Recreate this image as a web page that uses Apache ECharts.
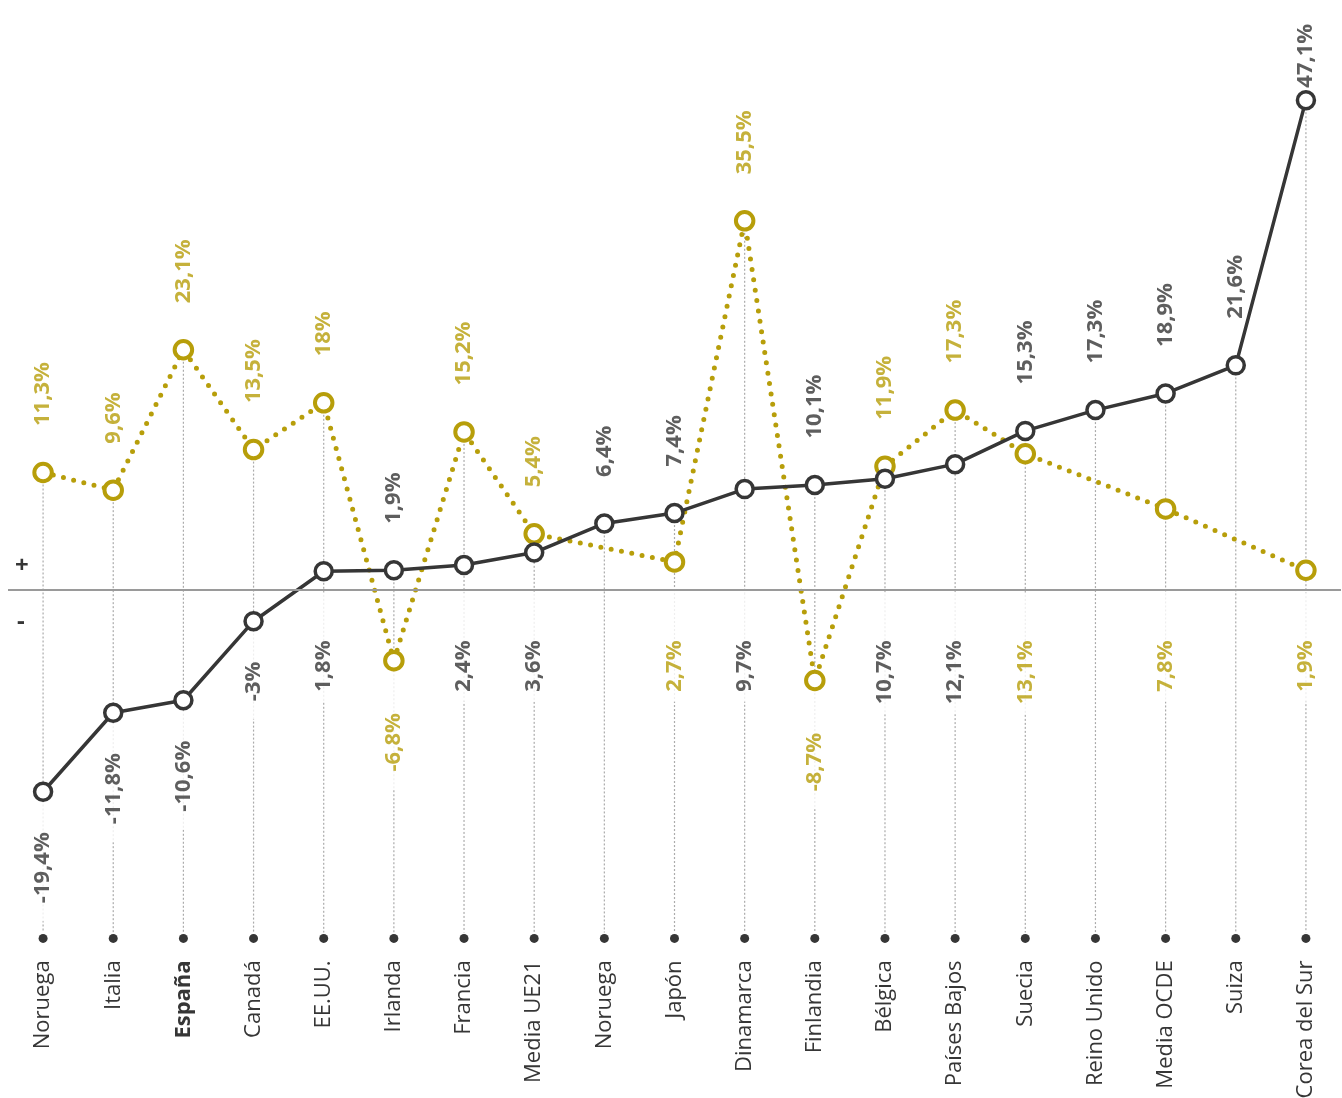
<!DOCTYPE html>
<html><head><meta charset="utf-8">
<script src="https://cdn.jsdelivr.net/npm/echarts@6/dist/echarts.min.js"></script>
<style>html,body{margin:0;padding:0;background:#fff}#c{width:1342px;height:1098px}</style>
</head><body><div id="c"></div>
<script>
// ---- data ----
const categories = ['Noruega','Italia','España','Canadá','EE.UU.','Irlanda','Francia','Media UE21','Noruega','Japón','Dinamarca','Finlandia','Bélgica','Países Bajos','Suecia','Reino Unido','Media OCDE','Suiza','Corea del Sur'];
const darkValues  = [-19.4,-11.8,-10.6,-3,1.8,1.9,2.4,3.6,6.4,7.4,9.7,10.1,10.7,12.1,15.3,17.3,18.9,21.6,47.1];
const oliveValues = [11.3,9.6,23.1,13.5,18,-6.8,15.2,5.4,null,2.7,35.5,-8.7,11.9,17.3,13.1,null,7.8,null,1.9];
const boldCategories = ['España'];

// ---- styles ----
const DARK = '#363636', OLIVE = '#b79e0a', FONT = '"Open Sans", "DejaVu Sans", sans-serif';
const yMin = -33.5, yMax = 50;
const tightTopLabels = {'Corea del Sur': 12};

const fmt = v => String(v).replace('.', ',') + '%';

function labelItems(values, others, color, negGap) {
  const out = [];
  values.forEach((v, i) => {
    if (v == null) return;
    const o = others[i];
    const above = (o == null) || v > o;
    const base = {fontFamily: FONT, fontWeight: 'bold', fontSize: 22, color: color, rotate: 90,
                  show: true, formatter: () => fmt(v)};
    if (above) {
      const gap = tightTopLabels[categories[i]] != null ? tightTopLabels[categories[i]] : 46;
      out.push({value: [i, v], label: Object.assign(base, {position: 'top', distance: gap, align: 'left', verticalAlign: 'middle'})});
    } else if (v < 0) {
      out.push({value: [i, v], label: Object.assign(base, {position: 'bottom', distance: 10, align: 'right', verticalAlign: 'middle',
        backgroundColor: '#fff', padding: [2, negGap, 2, 18]})});
    } else {
      out.push({value: [i, 0], label: Object.assign(base, {position: 'bottom', distance: 2, align: 'right', verticalAlign: 'middle',
        backgroundColor: '#fff', padding: [2, 48, 2, 10]})});
    }
  });
  return out;
}

const dropData = categories.map((c, i) => {
  const a = darkValues[i], b = oliveValues[i];
  return [i, b == null ? a : Math.max(a, b)];
});

const chart = echarts.init(document.getElementById('c'), null, {renderer: 'canvas'});
chart.setOption({
  animation: false,
  backgroundColor: '#fff',
  grid: {left: 8, right: 1, top: 70, bottom: 159.6, containLabel: false, outerBoundsMode: 'none'},
  xAxis: {
    type: 'category', data: categories, boundaryGap: true,
    axisLine: {show: false}, axisTick: {show: false}, splitLine: {show: false},
    axisLabel: {
      interval: 0, rotate: 90, margin: 22, color: DARK, fontFamily: FONT, fontSize: 22,
      formatter: v => boldCategories.includes(v) ? '{b|' + v + '}' : v,
      rich: {b: {fontWeight: 700, fontFamily: FONT, fontSize: 22, color: DARK}}
    }
  },
  yAxis: {type: 'value', min: yMin, max: yMax, show: false},
  series: [
    {
      type: 'custom', z: 1, silent: true, data: dropData,
      renderItem: (params, api) => {
        const i = api.value(0);
        const top = api.coord([i, api.value(1)]);
        const bot = api.coord([i, yMin]);
        return {type: 'group', children: [
          {type: 'line', shape: {x1: top[0], y1: top[1], x2: bot[0], y2: bot[1] - 6},
           style: {stroke: '#ababab', lineWidth: 1.2, lineDash: [2, 2]}},
          {type: 'circle', shape: {cx: bot[0], cy: bot[1], r: 4.5}, style: {fill: DARK}}
        ]};
      }
    },
    {
      type: 'scatter', z: 2, silent: true, symbolSize: 1, itemStyle: {color: 'rgba(0,0,0,0)'},
      data: labelItems(darkValues, oliveValues, DARK, 30)
    },
    {
      type: 'scatter', z: 2, silent: true, symbolSize: 1, itemStyle: {color: 'rgba(0,0,0,0)'},
      data: labelItems(oliveValues, darkValues, OLIVE, 42)
    },
    {
      name: 'olive', type: 'line', z: 3, data: oliveValues, connectNulls: true,
      symbol: 'circle', symbolSize: 17.5,
      lineStyle: {color: OLIVE, width: 5, type: [0, 10.5], cap: 'round'},
      itemStyle: {color: '#fff', borderColor: OLIVE, borderWidth: 4}
    },
    {
      name: 'dark', type: 'line', z: 4, data: darkValues,
      symbol: 'circle', symbolSize: 17,
      lineStyle: {color: DARK, width: 3.5},
      itemStyle: {color: '#fff', borderColor: DARK, borderWidth: 3.5},
      markLine: {
        silent: true, symbol: 'none', animation: false,
        lineStyle: {color: '#9a9a9a', width: 2, type: 'solid'},
        data: [
          {yAxis: 0, label: {show: true, formatter: '+', position: 'insideStartTop', distance: [7, 12], color: DARK, fontFamily: FONT, fontSize: 24, fontWeight: 'bold'}},
          {yAxis: 0, label: {show: true, formatter: '-', position: 'insideStartBottom', distance: [9, 20], color: DARK, fontFamily: FONT, fontSize: 24, fontWeight: 'bold'}}
        ]
      }
    }
  ]
});
</script>
</body></html>
